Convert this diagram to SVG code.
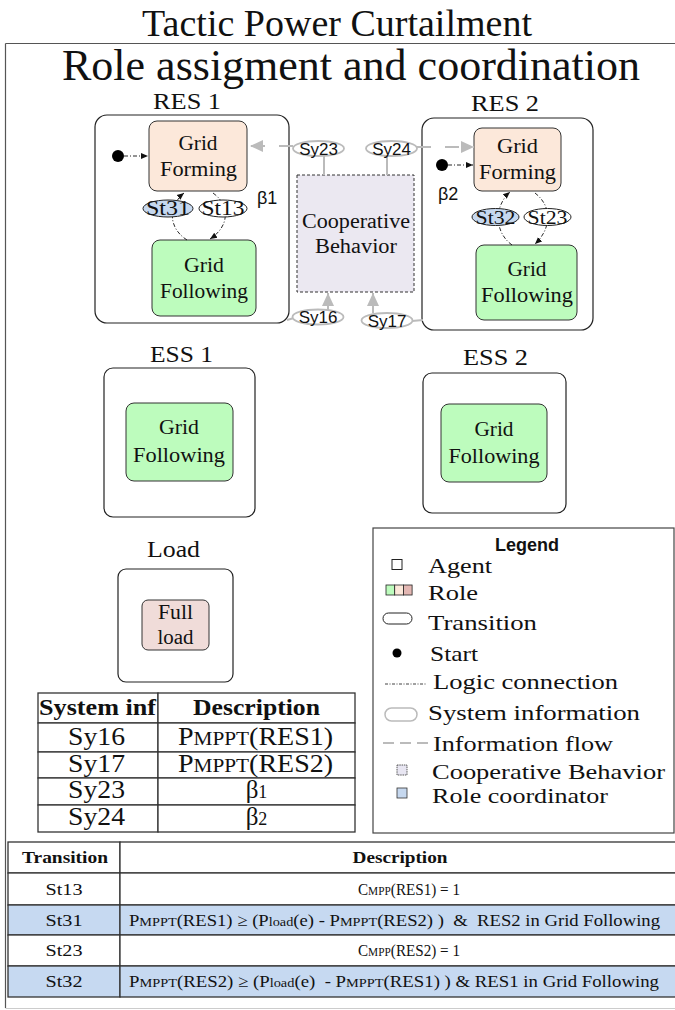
<svg xmlns="http://www.w3.org/2000/svg" width="675" height="1010" viewBox="0 0 675 1010">
<style>
.serif{font-family:"Liberation Serif","Times New Roman",serif;fill:#111}
.sans{font-family:"Liberation Sans",Arial,sans-serif;fill:#111}
.agent{fill:#fff;stroke:#222;stroke-width:1.2}
.gf{fill:#fce8da;stroke:#333;stroke-width:1}
.gfol{fill:#bdfcbd;stroke:#333;stroke-width:1}
.load{fill:#f0dcd9;stroke:#333;stroke-width:1}
.tr{fill:#fff;stroke:#222;stroke-width:1}
.trb{fill:#c6d8ef;stroke:#222;stroke-width:1}
.sy{fill:#fff;stroke:#bbb;stroke-width:1.8}
.logic{fill:none;stroke:#111;stroke-width:0.9;stroke-dasharray:4 2 1 2}
.info{fill:none;stroke:#bbb;stroke-width:2}
.infod{fill:none;stroke:#bbb;stroke-width:2;stroke-dasharray:14 14}
.cell{fill:#fff;stroke:#333;stroke-width:1.3}
.cellb{fill:#c6d9f1;stroke:#333;stroke-width:1.3}
.t20{font-size:20px}
.c{text-anchor:middle}
</style>
<defs>
<marker id="ab" markerWidth="8" markerHeight="8" refX="7" refY="4" orient="auto" markerUnits="userSpaceOnUse"><path d="M0,1 L7,4 L0,7 Z" fill="#111"/></marker>
<marker id="ag" markerWidth="14" markerHeight="12" refX="13" refY="6" orient="auto" markerUnits="userSpaceOnUse"><path d="M0,0 L13,6 L0,12 Z" fill="#bbb"/></marker>
</defs>

<g id="frame">
<line x1="5.5" y1="43.5" x2="675" y2="43.5" stroke="#555" stroke-width="1.2"/>
<line x1="5.5" y1="43.5" x2="5.5" y2="1008" stroke="#555" stroke-width="1.2"/>
<line x1="5.5" y1="1008.5" x2="675" y2="1008.5" stroke="#ccc" stroke-width="1"/>
</g>

<text class="serif c" x="337" y="36" font-size="38">Tactic Power Curtailment</text>
<text class="serif c" x="351" y="80" font-size="44">Role assigment and coordination</text>

<g id="res1">
<text class="serif c" x="187" y="109" font-size="24" textLength="68" lengthAdjust="spacingAndGlyphs">RES 1</text>
<rect class="agent" x="95" y="115" width="194" height="208" rx="12"/>
</g>
<g id="res1-gf">
<rect class="gf" x="149" y="121" width="98" height="70" rx="8"/>
<text class="serif t20 c" x="198" y="150" textLength="39" lengthAdjust="spacingAndGlyphs">Grid</text>
<text class="serif t20 c" x="198.5" y="176" textLength="77" lengthAdjust="spacingAndGlyphs">Forming</text>
</g>
<g id="res1-gfol">
<rect class="gfol" x="152" y="240" width="104" height="76" rx="8"/>
<text class="serif t20 c" x="204" y="272" textLength="40" lengthAdjust="spacingAndGlyphs">Grid</text>
<text class="serif t20 c" x="204" y="298" textLength="88" lengthAdjust="spacingAndGlyphs">Following</text>
</g>
<g id="res1-start"><circle cx="118" cy="156" r="6" fill="#000"/></g>
<text class="sans" x="257" y="204" font-size="18">β1</text>

<g id="res2">
<text class="serif c" x="505" y="111" font-size="24" textLength="68" lengthAdjust="spacingAndGlyphs">RES 2</text>
<rect class="agent" x="422" y="118" width="171" height="212" rx="12"/>
</g>
<g id="res2-gf">
<rect class="gf" x="474" y="128" width="87" height="63" rx="8"/>
<text class="serif t20 c" x="517.5" y="153" textLength="41" lengthAdjust="spacingAndGlyphs">Grid</text>
<text class="serif t20 c" x="517.5" y="179" textLength="77" lengthAdjust="spacingAndGlyphs">Forming</text>
</g>
<g id="res2-gfol">
<rect class="gfol" x="476" y="245" width="101" height="75" rx="8"/>
<text class="serif t20 c" x="527" y="276" textLength="39" lengthAdjust="spacingAndGlyphs">Grid</text>
<text class="serif t20 c" x="527" y="302" textLength="92" lengthAdjust="spacingAndGlyphs">Following</text>
</g>
<g id="res2-start"><circle cx="442" cy="165" r="6" fill="#000"/></g>
<text class="sans" x="438" y="200" font-size="18">β2</text>

<g id="coop">
<rect x="297" y="175" width="117" height="117" fill="#ebe8f1" stroke="#333" stroke-width="1" stroke-dasharray="3 2"/>
<text class="serif t20 c" x="356" y="228" textLength="108" lengthAdjust="spacingAndGlyphs">Cooperative</text>
<text class="serif t20 c" x="356" y="253" textLength="82" lengthAdjust="spacingAndGlyphs">Behavior</text>
</g>

<g id="connectors">
<line class="logic" x1="124" y1="156" x2="148" y2="156" marker-end="url(#ab)"/>
<line class="logic" x1="448" y1="165" x2="473" y2="165" marker-end="url(#ab)"/>
<path class="logic" d="M187,240 C168,228 168,206 184,193" marker-end="url(#ab)"/>
<path class="logic" d="M213,193 C230,205 230,226 210,239" marker-end="url(#ab)"/>
<path class="logic" d="M512,245 C494,232 494,206 510,192" marker-end="url(#ab)"/>
<path class="logic" d="M535,193 C552,206 552,228 535,244" marker-end="url(#ab)"/>
<line class="infod" x1="293" y1="146" x2="250" y2="146" marker-end="url(#ag)"/>
<line class="infod" x1="417" y1="147" x2="474" y2="147" stroke-dasharray="10 12" marker-end="url(#ag)"/>
<line class="info" x1="324" y1="156" x2="324" y2="175"/>
<line class="info" x1="387" y1="156" x2="387" y2="175"/>
<line class="info" x1="328" y1="310" x2="328" y2="293" marker-end="url(#ag)"/>
<line class="info" x1="373" y1="313" x2="373" y2="293" marker-end="url(#ag)"/>
<line class="info" x1="287" y1="320" x2="294" y2="318"/>
<line class="info" x1="412" y1="321" x2="423" y2="320"/>
</g>

<g id="st31"><ellipse class="trb" cx="168" cy="208.5" rx="25" ry="8.5"/><text class="serif c" x="168" y="215" font-size="20" textLength="44" lengthAdjust="spacingAndGlyphs">St31</text></g>
<g id="st13"><ellipse class="tr" cx="223" cy="208.5" rx="24" ry="8.5"/><text class="serif c" x="223" y="215" font-size="20" textLength="43" lengthAdjust="spacingAndGlyphs">St13</text></g>
<g id="st32"><ellipse class="trb" cx="495.5" cy="217" rx="23.5" ry="8.5"/><text class="serif c" x="495.5" y="224" font-size="19" textLength="40" lengthAdjust="spacingAndGlyphs">St32</text></g>
<g id="st23"><ellipse class="tr" cx="547.5" cy="217" rx="23.5" ry="8.5"/><text class="serif c" x="547.5" y="224" font-size="19" textLength="40" lengthAdjust="spacingAndGlyphs">St23</text></g>

<g id="sy23"><ellipse class="sy" cx="318.5" cy="148.5" rx="25.5" ry="7.5"/><text class="sans c" x="318.5" y="154.5" font-size="17">Sy23</text></g>
<g id="sy24"><ellipse class="sy" cx="391.5" cy="148.5" rx="25.5" ry="7.5"/><text class="sans c" x="391.5" y="154.5" font-size="17">Sy24</text></g>
<g id="sy16"><ellipse class="sy" cx="318" cy="317" rx="25.5" ry="7.5"/><text class="sans c" x="318" y="323" font-size="17">Sy16</text></g>
<g id="sy17"><ellipse class="sy" cx="387" cy="320.5" rx="25.5" ry="7.5"/><text class="sans c" x="387" y="326.5" font-size="17">Sy17</text></g>

<g id="ess1">
<text class="serif c" x="181.5" y="362" font-size="24" textLength="63" lengthAdjust="spacingAndGlyphs">ESS 1</text>
<rect class="agent" x="104" y="368" width="151" height="149" rx="9"/>
<rect class="gfol" x="126" y="403" width="107" height="78" rx="8"/>
<text class="serif t20 c" x="179" y="434" textLength="40" lengthAdjust="spacingAndGlyphs">Grid</text>
<text class="serif t20 c" x="179" y="462" textLength="92" lengthAdjust="spacingAndGlyphs">Following</text>
</g>

<g id="ess2">
<text class="serif c" x="495.5" y="365" font-size="24" textLength="65" lengthAdjust="spacingAndGlyphs">ESS 2</text>
<rect class="agent" x="423" y="373" width="143" height="140" rx="9"/>
<rect class="gfol" x="441" y="404" width="106" height="78" rx="8"/>
<text class="serif t20 c" x="494" y="436" textLength="39" lengthAdjust="spacingAndGlyphs">Grid</text>
<text class="serif t20 c" x="494" y="463" textLength="91" lengthAdjust="spacingAndGlyphs">Following</text>
</g>

<g id="load">
<text class="serif c" x="173.5" y="557" font-size="24" textLength="53" lengthAdjust="spacingAndGlyphs">Load</text>
<rect class="agent" x="118" y="569" width="115" height="113" rx="8"/>
<rect class="load" x="142" y="600" width="67" height="50" rx="6"/>
<text class="serif t20 c" x="175.5" y="619" textLength="35" lengthAdjust="spacingAndGlyphs">Full</text>
<text class="serif t20 c" x="175.5" y="644" textLength="36" lengthAdjust="spacingAndGlyphs">load</text>
</g>

<g id="legend">
<rect x="373" y="528" width="301" height="305" fill="#fff" stroke="#444" stroke-width="1.2"/>
<text class="sans c" x="527" y="551" font-size="18" font-weight="bold">Legend</text>
<rect x="392" y="559.5" width="10" height="10" fill="#fff" stroke="#222"/>
<text class="serif" x="428" y="573" font-size="22" textLength="64" lengthAdjust="spacingAndGlyphs">Agent</text>
<rect x="386" y="585" width="8.7" height="10" fill="#bdfcbd" stroke="#222" stroke-width="0.8"/>
<rect x="394.7" y="585" width="8.7" height="10" fill="#fce8da" stroke="#222" stroke-width="0.8"/>
<rect x="403.4" y="585" width="8.7" height="10" fill="#e3b7b3" stroke="#222" stroke-width="0.8"/>
<text class="serif" x="428" y="600" font-size="22" textLength="50" lengthAdjust="spacingAndGlyphs">Role</text>
<rect x="383" y="613" width="29" height="11" rx="5.5" fill="#fff" stroke="#222"/>
<text class="serif" x="428" y="630" font-size="22" textLength="109" lengthAdjust="spacingAndGlyphs">Transition</text>
<circle cx="397" cy="653" r="4.5" fill="#000"/>
<text class="serif" x="430" y="661" font-size="22" textLength="48" lengthAdjust="spacingAndGlyphs">Start</text>
<line x1="385" y1="684" x2="427" y2="684" stroke="#111" stroke-width="0.8" stroke-dasharray="3 1.5 1 1.5"/>
<text class="serif" x="433" y="689" font-size="22" textLength="185" lengthAdjust="spacingAndGlyphs">Logic connection</text>
<rect x="385" y="708" width="32" height="13" rx="6.5" fill="#fff" stroke="#bbb" stroke-width="1.5"/>
<text class="serif" x="428" y="720" font-size="22" textLength="212" lengthAdjust="spacingAndGlyphs">System information</text>
<line x1="383" y1="743" x2="428" y2="743" stroke="#bbb" stroke-width="2" stroke-dasharray="11 6"/>
<text class="serif" x="433" y="751" font-size="22" textLength="180" lengthAdjust="spacingAndGlyphs">Information flow</text>
<rect x="397" y="765" width="10" height="10" fill="#e8e6f2" stroke="#333" stroke-width="0.8" stroke-dasharray="1.5 0.8"/>
<text class="serif" x="432" y="779" font-size="22" textLength="233" lengthAdjust="spacingAndGlyphs">Cooperative Behavior</text>
<rect x="397" y="788" width="10" height="10" fill="#c6d8ef" stroke="#333" stroke-width="0.8"/>
<text class="serif" x="432" y="803" font-size="22" textLength="176" lengthAdjust="spacingAndGlyphs">Role coordinator</text>
</g>

<g id="sysinf-table">
<rect class="cell" x="38" y="693" width="120" height="30"/>
<rect class="cell" x="158" y="693" width="197" height="30"/>
<rect class="cell" x="38" y="723" width="120" height="29"/>
<rect class="cell" x="158" y="723" width="197" height="29"/>
<rect class="cell" x="38" y="752" width="120" height="26"/>
<rect class="cell" x="158" y="752" width="197" height="26"/>
<rect class="cell" x="38" y="778" width="120" height="27"/>
<rect class="cell" x="158" y="778" width="197" height="27"/>
<rect class="cell" x="38" y="805" width="120" height="27"/>
<rect class="cell" x="158" y="805" width="197" height="27"/>
<text class="serif" x="39" y="715" font-size="24" font-weight="bold" textLength="117" lengthAdjust="spacingAndGlyphs">System inf</text>
<text class="serif c" x="256.5" y="715" font-size="24" font-weight="bold" textLength="127" lengthAdjust="spacingAndGlyphs">Description</text>
<text class="serif c" x="96.5" y="745" font-size="25" textLength="57" lengthAdjust="spacingAndGlyphs">Sy16</text>
<text class="serif c" x="255.5" y="745" font-size="25" textLength="155" lengthAdjust="spacingAndGlyphs">P<tspan font-size="19">MPPT</tspan>(RES1)</text>
<text class="serif c" x="96.5" y="772" font-size="25" textLength="57" lengthAdjust="spacingAndGlyphs">Sy17</text>
<text class="serif c" x="255.5" y="772" font-size="25" textLength="155" lengthAdjust="spacingAndGlyphs">P<tspan font-size="19">MPPT</tspan>(RES2)</text>
<text class="serif c" x="96.5" y="798" font-size="25" textLength="57" lengthAdjust="spacingAndGlyphs">Sy23</text>
<text class="serif c" x="256.5" y="798" font-size="25">β<tspan font-size="18">1</tspan></text>
<text class="serif c" x="96.5" y="825" font-size="25" textLength="57" lengthAdjust="spacingAndGlyphs">Sy24</text>
<text class="serif c" x="256.5" y="825" font-size="25">β<tspan font-size="18">2</tspan></text>
</g>

<g id="transition-table">
<rect class="cell" x="8" y="842" width="112" height="31"/>
<rect class="cell" x="120" y="842" width="556" height="31"/>
<rect class="cell" x="8" y="873" width="112" height="32"/>
<rect class="cell" x="120" y="873" width="556" height="32"/>
<rect class="cellb" x="8" y="905" width="112" height="30"/>
<rect class="cellb" x="120" y="905" width="556" height="30"/>
<rect class="cell" x="8" y="935" width="112" height="31"/>
<rect class="cell" x="120" y="935" width="556" height="31"/>
<rect class="cellb" x="8" y="966" width="112" height="31"/>
<rect class="cellb" x="120" y="966" width="556" height="31"/>
<text class="serif c" x="65" y="863" font-size="17" font-weight="bold" textLength="86" lengthAdjust="spacingAndGlyphs">Transition</text>
<text class="serif c" x="400" y="863" font-size="17" font-weight="bold" textLength="95" lengthAdjust="spacingAndGlyphs">Description</text>
<text class="serif c" x="64" y="895" font-size="17" textLength="37" lengthAdjust="spacingAndGlyphs">St13</text>
<text class="serif c" x="409" y="895" font-size="16" textLength="102" lengthAdjust="spacingAndGlyphs">C<tspan font-size="12">MPP</tspan>(RES1) = 1</text>
<text class="serif c" x="64" y="926" font-size="17" textLength="37" lengthAdjust="spacingAndGlyphs">St31</text>
<text class="serif" x="129" y="926" font-size="17" textLength="531" lengthAdjust="spacingAndGlyphs" xml:space="preserve">P<tspan font-size="13">MPPT</tspan>(RES1) ≥ (P<tspan font-size="13">load</tspan>(e) - P<tspan font-size="13">MPPT</tspan>(RES2) )  &amp;  RES2 in Grid Following</text>
<text class="serif c" x="64" y="956" font-size="17" textLength="37" lengthAdjust="spacingAndGlyphs">St23</text>
<text class="serif c" x="409" y="956" font-size="16" textLength="102" lengthAdjust="spacingAndGlyphs">C<tspan font-size="12">MPP</tspan>(RES2) = 1</text>
<text class="serif c" x="64" y="987" font-size="17" textLength="37" lengthAdjust="spacingAndGlyphs">St32</text>
<text class="serif" x="129" y="987" font-size="17" textLength="530" lengthAdjust="spacingAndGlyphs" xml:space="preserve">P<tspan font-size="13">MPPT</tspan>(RES2) ≥ (P<tspan font-size="13">load</tspan>(e)  - P<tspan font-size="13">MPPT</tspan>(RES1) ) &amp; RES1 in Grid Following</text>
</g>
</svg>
